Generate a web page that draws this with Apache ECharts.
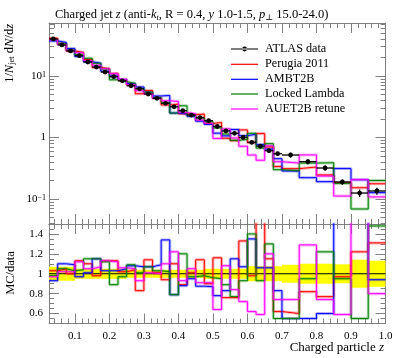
<!DOCTYPE html>
<html><head><meta charset="utf-8">
<script src="https://cdn.jsdelivr.net/npm/echarts@6/dist/echarts.min.js"></script>
<style>html,body{margin:0;padding:0;background:#fff}#c{width:397px;height:358px}</style>
</head><body><div id="c"></div>
<script>
// ---- data ----
const binEdges = [0.025,0.05,0.075,0.1,0.125,0.15,0.175,0.2,0.225,0.25,0.275,0.3,0.325,0.35,0.375,0.4,0.425,0.45,0.475,0.5,0.525,0.55,0.575,0.6,0.625,0.65,0.675,0.7,0.75,0.8,0.85,0.9,0.95,1.0];
const dataValues = [40.0,32.0,25.6,21.4,16.9,14.0,11.6,9.75,8.35,6.95,6.2,5.1,4.34,3.6,3.16,2.73,2.32,2.11,1.88,1.51,1.28,1.17,1.00,0.836,0.723,0.61,0.545,0.519,0.404,0.319,0.189,0.125,0.135];
const dataRelErr = [0.07,0.07,0.07,0.05,0.05,0.05,0.05,0.05,0.05,0.04,0.04,0.04,0.04,0.04,0.04,0.04,0.04,0.04,0.05,0.05,0.05,0.05,0.05,0.075,0.075,0.075,0.075,0.09,0.10,0.10,0.095,0.14,0.13];
const ratioPerugia = [1.03,1.05,1.00,1.13,1.10,0.98,1.13,1.13,1.02,1.04,0.83,1.14,1.01,0.94,1.10,0.89,1.01,1.14,0.90,1.16,0.76,0.76,1.33,0.98,1.60,1.15,0.62,0.60,0.82,0.77,0.97,1.22,1.31];
const ratioAMBT2B = [0.93,1.10,1.09,0.97,1.01,1.15,1.03,1.03,1.05,1.08,1.07,1.07,1.09,1.34,0.79,0.88,0.95,0.875,0.87,0.78,0.83,1.15,1.07,1.35,1.06,1.06,0.83,0.55,0.55,0.60,1.65,1.65,0.94];
const ratioLocked = [0.98,1.05,1.03,1.04,1.15,1.15,1.12,0.89,0.97,1.09,1.01,1.07,1.03,1.02,0.79,1.20,0.97,0.98,0.96,0.95,0.89,0.77,0.93,1.40,0.93,1.30,0.55,0.55,0.95,1.22,0.95,0.55,1.48];
const ratioAUET2B = [0.97,1.02,1.02,1.12,1.05,1.07,1.13,1.12,1.06,1.05,0.93,1.01,1.00,1.10,1.22,0.93,1.05,0.91,0.91,0.64,1.08,0.84,0.72,0.62,0.59,1.20,0.74,0.74,1.29,0.74,0.59,1.65,0.80];
const xMajorTicks = [0.1,0.2,0.3,0.4,0.5,0.6,0.7,0.8,0.9,1.0];
const xMinorTicks = [0.04,0.06,0.08,0.12,0.14,0.16,0.18,0.22,0.24,0.26,0.28,0.32,0.34,0.36,0.38,0.42,0.44,0.46,0.48,0.52,0.54,0.56,0.58,0.62,0.64,0.66,0.68,0.72,0.74,0.76,0.78,0.82,0.84,0.86,0.88,0.92,0.94,0.96,0.98];
const yMajorTicks = [0.1,1,10];
const yMinorTicks = [0.04,0.05,0.06,0.07,0.08,0.09,0.2,0.3,0.4,0.5,0.6,0.7,0.8,0.9,2,3,4,5,6,7,8,9,20,30,40,50,60,70];
const rMajorTicks = [0.6,0.8,1.0,1.2,1.4];
const rMinorTicks = [0.55,0.65,0.7,0.75,0.85,0.9,0.95,1.05,1.1,1.15,1.25,1.3,1.35,1.45];

const mcSeries = [
  {name:'Perugia 2011', color:'#ff0000', ratio: ratioPerugia},
  {name:'AMBT2B', color:'#0000ff', ratio: ratioAMBT2B},
  {name:'Locked Lambda', color:'#008000', ratio: ratioLocked},
  {name:'AUET2B retune', color:'#ff00ff', ratio: ratioAUET2B}
];

// ---- build ----
const FONT = '"Liberation Serif", "DejaVu Serif", serif';
const AX = '#808080';
function stepData(vals){
  const d = [];
  for (let i=0;i<vals.length;i++) d.push([binEdges[i], vals[i]]);
  d.push([binEdges[vals.length], vals[vals.length-1]]);
  return d;
}
function xAxesFor(grid, labels){
  const base = {type:'value', gridIndex:grid, min:0.025, max:1.0, splitLine:{show:false}, axisLine:{show:false, onZero:false}};
  return [
    Object.assign({}, base, {position:'bottom', axisLine:{show:true,onZero:false,lineStyle:{color:AX,width:1}},
      axisTick:{show:true, inside:true, length:10, customValues:xMajorTicks, lineStyle:{color:AX}},
      axisLabel:{show:labels, customValues:xMajorTicks, margin:7, color:'#000', fontFamily:FONT, fontSize:11, formatter:v=>v.toFixed(1)}}),
    Object.assign({}, base, {position:'bottom', axisTick:{show:true, inside:true, length:5, customValues:xMinorTicks, lineStyle:{color:AX}}, axisLabel:{show:false}}),
    Object.assign({}, base, {position:'top', axisLine:{show:true,onZero:false,lineStyle:{color:AX,width:1}},
      axisTick:{show:true, inside:true, length:10, customValues:xMajorTicks, lineStyle:{color:AX}}, axisLabel:{show:false}}),
    Object.assign({}, base, {position:'top', axisTick:{show:true, inside:true, length:5, customValues:xMinorTicks, lineStyle:{color:AX}}, axisLabel:{show:false}})
  ];
}
function yAxesFor(grid, opts){
  const base = Object.assign({gridIndex:grid, splitLine:{show:false}, axisLine:{show:false,onZero:false}}, opts.base);
  return [
    Object.assign({}, base, {position:'left', axisLine:{show:true,onZero:false,lineStyle:{color:AX,width:1}},
      axisTick:{show:true, inside:true, length:opts.majLen, customValues:opts.major, lineStyle:{color:AX}},
      axisLabel:Object.assign({show:true, customValues:opts.major, color:'#000', fontFamily:FONT, fontSize:11}, opts.label)}),
    Object.assign({}, base, {position:'left', axisTick:{show:true, inside:true, length:opts.minLen, customValues:opts.minor, lineStyle:{color:AX}}, axisLabel:{show:false}}),
    Object.assign({}, base, {position:'right', axisLine:{show:true,onZero:false,lineStyle:{color:AX,width:1}},
      axisTick:{show:true, inside:true, length:opts.majLen, customValues:opts.major, lineStyle:{color:AX}}, axisLabel:{show:false}}),
    Object.assign({}, base, {position:'right', axisTick:{show:true, inside:true, length:opts.minLen, customValues:opts.minor, lineStyle:{color:AX}}, axisLabel:{show:false}})
  ];
}

const series = [];
mcSeries.forEach(m => {
  const vals = m.ratio.map((r,i) => r*dataValues[i]);
  series.push({type:'line', name:m.name+' band', xAxisIndex:0, yAxisIndex:0, step:'end', data:stepData(vals), showSymbol:false, silent:true,
    lineStyle:{color:m.color, width:3, opacity:0.3}, itemStyle:{color:m.color}, z:2});
  series.push({type:'line', name:m.name, xAxisIndex:0, yAxisIndex:0, step:'end', data:stepData(vals), showSymbol:false, silent:true,
    lineStyle:{color:m.color, width:1}, itemStyle:{color:m.color}, z:3});
});
series.push({type:'custom', name:'ATLAS data', xAxisIndex:0, yAxisIndex:0, silent:true, z:5,
  itemStyle:{color:'#000'},
  data: dataValues.map((v,i)=>[(binEdges[i]+binEdges[i+1])/2, v, dataRelErr[i], binEdges[i], binEdges[i+1]]),
  encode:{x:0, y:1},
  renderItem:(params, api)=>{
    const c=api.value(0), v=api.value(1), e=api.value(2), x0=api.value(3), x1=api.value(4);
    const p=api.coord([c,v]), l=api.coord([x0,v]), r=api.coord([x1,v]);
    const t=api.coord([c,v*(1+e)]), b=api.coord([c,v*(1-e)]);
    return {type:'group', children:[
      {type:'line', shape:{x1:l[0],y1:l[1],x2:r[0],y2:r[1]}, style:{stroke:'#000', lineWidth:1.3}},
      {type:'line', shape:{x1:t[0],y1:t[1],x2:b[0],y2:b[1]}, style:{stroke:'#000', lineWidth:1.3}},
      {type:'circle', shape:{cx:p[0],cy:p[1],r:2.4}, style:{fill:'#000'}}
    ]};
  }
});
series.push({type:'custom', name:'band', xAxisIndex:4, yAxisIndex:4, silent:true, z:1, clip:true,
  data: dataRelErr.map((e,i)=>[(binEdges[i]+binEdges[i+1])/2, 1, e, binEdges[i], binEdges[i+1]]),
  encode:{x:0, y:1},
  renderItem:(params, api)=>{
    const e=api.value(2), x0=api.value(3), x1=api.value(4);
    const a=api.coord([x0,1+e]), b=api.coord([x1,1-e]);
    const l=api.coord([x0,1]), r=api.coord([x1,1]);
    return {type:'group', children:[
      {type:'rect', shape:{x:a[0],y:a[1],width:b[0]-a[0],height:b[1]-a[1]}, style:{fill:'#ffff00'}},
      {type:'line', shape:{x1:l[0],y1:l[1],x2:r[0],y2:r[1]}, style:{stroke:'#000', lineWidth:1}, z2:10}
    ]};
  }
});
mcSeries.forEach(m => {
  series.push({type:'line', name:m.name+' rband', xAxisIndex:4, yAxisIndex:4, step:'end', data:stepData(m.ratio), showSymbol:false, silent:true, clip:true,
    lineStyle:{color:m.color, width:3, opacity:0.3}, z:2});
  series.push({type:'line', name:m.name+' r', xAxisIndex:4, yAxisIndex:4, step:'end', data:stepData(m.ratio), showSymbol:false, silent:true, clip:true,
    lineStyle:{color:m.color, width:1}, z:3});
});

function legendFor(name, y, icon, h, color){
  return {show:true, left:226, top:y-7, orient:'vertical', selectedMode:false, data:[{name:name, icon:icon, itemStyle:{color:color}}],
    itemWidth:27, itemHeight:h, textStyle:{fontFamily:FONT, fontSize:12.2, color:'#000', lineHeight:14, padding:[0,0,0,2]}};
}
const dataIcon = 'path://M0,2.05h27v1.1h-27z M11.1,2.6a2.4,2.4 0 1,0 4.8,0a2.4,2.4 0 1,0 -4.8,0z';
const legends = [legendFor('ATLAS data', 44, dataIcon, 4.8, '#000')];
const legendY = [59.3, 74.3, 89, 104];
mcSeries.forEach((m,i)=>legends.push(legendFor(m.name, legendY[i], 'rect', 1.2, m.color)));

const option = {
  animation:false,
  backgroundColor:'#fff',
  title:{left:50, top:2, text:'Charged jet {i|z} (anti-{i|k}{sub|t}, R = 0.4, {i|y} 1.0-1.5, {i|p}{sub|⊥} 15.0-24.0)',
    textStyle:{fontFamily:FONT, fontSize:12.5, fontWeight:'normal', color:'#000', lineHeight:15,
      rich:{i:{fontStyle:'italic', fontFamily:FONT, fontSize:12.5, lineHeight:15}, sub:{fontStyle:'italic', fontFamily:FONT, fontSize:8.5, verticalAlign:'bottom', lineHeight:10}}}},
  legend: legends,
  grid:[{left:49, top:23, width:336.5, height:201}, {left:49, top:224, width:336.5, height:99.5}],
  xAxis: xAxesFor(0,false).concat(xAxesFor(1,true)),
  yAxis: yAxesFor(0, {base:{type:'log', logBase:10, min:0.0392, max:72.8}, major:yMajorTicks, minor:yMinorTicks, majLen:10, minLen:5,
      label:{margin:3, formatter:v=>{const k=Math.round(Math.log10(v)); return k===0?'1':'10{s|'+(k<0?'−':'')+Math.abs(k)+'}';},
        rich:{s:{fontSize:8, fontFamily:FONT, verticalAlign:'top', lineHeight:8}}}})
    .concat(yAxesFor(1, {base:{type:'value', min:0.5, max:1.5}, major:rMajorTicks, minor:rMinorTicks, majLen:10, minLen:5,
      label:{margin:6, formatter:v=>Math.abs(v-1)<1e-9?'1':v.toFixed(1)}})),
  graphic:[
    {type:'text', x:10, y:24, rotation:Math.PI/2, silent:true,
      style:{text:'1/{i|N}{sub|jet} d{i|N}/d{i|z}', align:'right', verticalAlign:'middle', font:'12.5px '+FONT, fill:'#000',
        rich:{i:{fontStyle:'italic', fontSize:12.5, fontFamily:FONT}, sub:{fontSize:8.5, fontFamily:FONT, verticalAlign:'bottom', lineHeight:9}}}},
    {type:'text', x:11, y:273, rotation:Math.PI/2, silent:true,
      style:{text:'MC/data', align:'center', verticalAlign:'middle', font:'12.5px '+FONT, fill:'#000'}},
    {type:'text', x:384, y:348, silent:true,
      style:{text:'Charged particle {i|z}', align:'right', verticalAlign:'middle', font:'13px '+FONT, fill:'#000',
        rich:{i:{fontStyle:'italic', fontSize:13, fontFamily:FONT}}}}
  ],
  series: series
};
const chart = echarts.init(document.getElementById('c'), null, {renderer:'canvas'});
chart.setOption(option);
</script></body></html>
